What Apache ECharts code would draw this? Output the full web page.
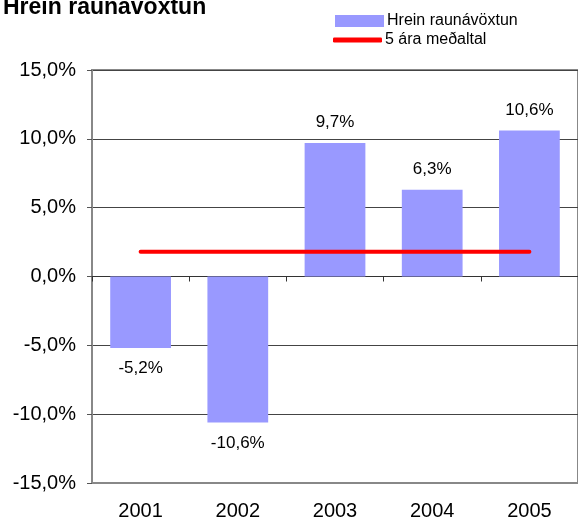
<!DOCTYPE html>
<html>
<head>
<meta charset="utf-8">
<script src="https://cdn.jsdelivr.net/npm/echarts@6/dist/echarts.min.js"></script>
<style>
  html, body { margin: 0; padding: 0; background: #fff; }
  #chart { width: 578px; height: 522px; }
</style>
</head>
<body>
<div id="chart"></div>
<script>
const years = ['2001', '2002', '2003', '2004', '2005'];
const returns = [-5.2, -10.6, 9.7, 6.3, 10.6];
const average = [1.8, 1.8, 1.8, 1.8, 1.8];
const yTicks = { min: -15, max: 15, step: 5 };

function pct(v, digits) {
  return v.toFixed(digits).replace('.', ',') + '%';
}

const font = 'Arial, "Liberation Sans", sans-serif';
let chart = echarts.init(document.getElementById('chart'));

chart.setOption({
  animation: false,
  title: {
    text: 'Hrein raunávöxtun',
    left: -2,
    top: -9,
    textStyle: { fontFamily: font, fontSize: 23, fontWeight: 'bold', color: '#000' }
  },
  legend: [{
    data: ['Hrein raunávöxtun'],
    left: 330,
    top: 8,
    orient: 'vertical',
    icon: 'rect',
    itemWidth: 49,
    itemHeight: 12,
    textStyle: { fontFamily: font, fontSize: 16, color: '#000', padding: [0, 0, 0, -2] }
  }, {
    data: ['5 ára meðaltal'],
    left: 328,
    top: 27,
    orient: 'vertical',
    icon: 'roundRect',
    itemWidth: 49,
    itemHeight: 5,
    textStyle: { fontFamily: font, fontSize: 16, color: '#000', padding: [0, 0, 0, -2] }
  }],
  grid: { left: 92, top: 70, width: 488, bottom: 39, show: true, borderColor: '#888', borderWidth: 2 },
  xAxis: [{
    type: 'category',
    data: years,
    position: 'bottom',
    axisLine: { onZero: false, lineStyle: { color: '#888', width: 2 } },
    axisTick: { show: false },
    axisLabel: { margin: 18, fontFamily: font, fontSize: 20, color: '#000' }
  }, {
    type: 'category',
    data: years,
    position: 'bottom',
    axisLine: { onZero: true, lineStyle: { color: '#333', width: 1 } },
    axisTick: { show: true, length: 5, lineStyle: { color: '#333' } },
    axisLabel: { show: false }
  }],
  yAxis: {
    type: 'value',
    min: yTicks.min,
    max: yTicks.max,
    interval: yTicks.step,
    axisLine: { show: true, lineStyle: { color: '#888', width: 2 } },
    axisTick: { show: true, length: 5, lineStyle: { color: '#555' } },
    splitLine: { lineStyle: { color: '#444', width: 1 } },
    axisLabel: {
      margin: 16,
      fontFamily: font,
      fontSize: 20,
      color: '#000',
      formatter: v => pct(v, 1)
    }
  },
  series: [{
    name: 'Hrein raunávöxtun',
    type: 'bar',
    barWidth: '62.5%',
    color: '#9999FF',
    data: returns.map(v => ({
      value: v,
      label: { position: v < 0 ? 'bottom' : 'top' }
    })),
    label: {
      show: true,
      distance: 12,
      fontFamily: font,
      fontSize: 17,
      color: '#000',
      formatter: p => pct(p.value, 1)
    },
    z: 2
  }, {
    name: '5 ára meðaltal',
    type: 'line',
    color: '#FF0000',
    data: average,
    showSymbol: false,
    symbol: 'none',
    lineStyle: { width: 4, color: '#FF0000', cap: 'round' },
    z: 3
  }]
});
</script>
</body>
</html>
